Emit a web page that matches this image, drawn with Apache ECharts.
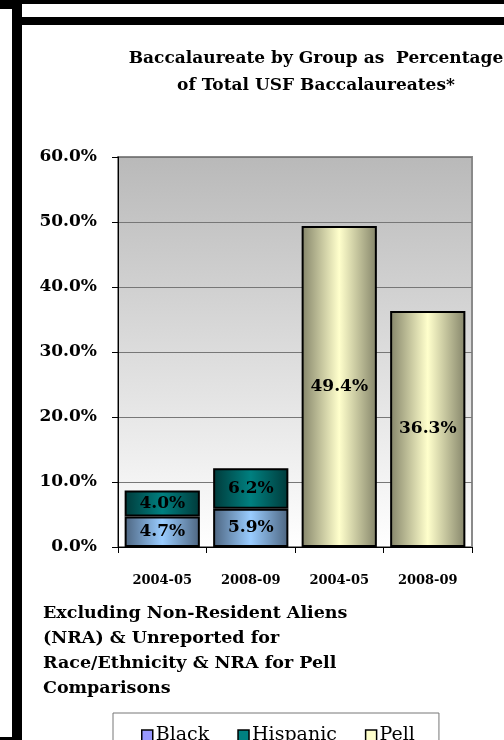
<!DOCTYPE html>
<html>
<head>
<meta charset="utf-8">
<script src="https://cdn.jsdelivr.net/npm/echarts@6/dist/echarts.min.js"></script>
<style>
  html, body { margin: 0; padding: 0; background: #fff; }
  #chart { width: 504px; height: 740px; }
</style>
</head>
<body>
<div id="chart"></div>
<script>
const categories = ['2004-05', '2008-09', '2004-05', '2008-09']
const blackValues = [4.7, 5.9, null, null]
const hispanicValues = [4.0, 6.2, null, null]
const pellValues = [null, null, 49.4, 36.3]
const yTicks = { min: 0, max: 60, interval: 10 }

const serif = 'DejaVu Serif'

function hGrad(edge, mid) {
  return {
    type: 'linear', x: 0, y: 0, x2: 1, y2: 0,
    colorStops: [
      { offset: 0, color: edge },
      { offset: 0.5, color: mid },
      { offset: 1, color: edge }
    ]
  }
}

const barLabel = {
  show: true,
  position: 'inside',
  fontFamily: serif,
  fontWeight: 'bold',
  fontSize: 17,
  color: '#000',
  formatter: function(p) {
    return p.value == null ? '' : p.value.toFixed(1) + '%'
  }
}

const chart = echarts.init(document.getElementById('chart'))
chart.setOption({
  animation: false,
  title: {
    text: 'Baccalaureate by Group as  Percentage\nof Total USF Baccalaureates*',
    left: 311,
    textAlign: 'center',
    top: 40,
    textStyle: {
      fontFamily: serif,
      fontWeight: 'bold',
      fontSize: 17,
      lineHeight: 27,
      color: '#000'
    }
  },
  grid: {
    left: 118,
    right: 32,
    top: 157,
    bottom: 193,
    show: true,
    borderColor: '#8a8a8a',
    borderWidth: 2,
    backgroundColor: {
      type: 'linear', x: 0, y: 0, x2: 0, y2: 1,
      colorStops: [
        { offset: 0, color: '#b9b9b9' },
        { offset: 1, color: '#ffffff' }
      ]
    }
  },
  legend: {
    left: 113,
    top: 713,
    padding: [13, 24, 10, 28],
    borderColor: '#777',
    borderWidth: 1,
    icon: 'rect',
    itemWidth: 11,
    itemHeight: 11,
    itemGap: 28,
    textStyle: { fontFamily: serif, fontSize: 19, color: '#000', padding: [0, 0, 0, -2] },
    itemStyle: { borderColor: '#000', borderWidth: 1.5 },
    data: [
      { name: 'Black', itemStyle: { color: '#9999ff' } },
      { name: 'Hispanic', itemStyle: { color: '#008080' } },
      { name: 'Pell', itemStyle: { color: '#ffffcc' } }
    ]
  },
  xAxis: {
    type: 'category',
    data: categories,
    axisLine: { lineStyle: { color: '#000', width: 1 } },
    axisTick: { show: true, length: 6, lineStyle: { color: '#000' } },
    axisLabel: {
      margin: 27,
      fontFamily: serif,
      fontWeight: 'bold',
      fontSize: 13,
      color: '#000'
    }
  },
  yAxis: {
    type: 'value',
    min: yTicks.min,
    max: yTicks.max,
    interval: yTicks.interval,
    axisLine: { show: true, lineStyle: { color: '#000', width: 1 } },
    axisTick: { show: true, length: 6, lineStyle: { color: '#000' } },
    splitLine: { lineStyle: { color: '#777', width: 1 } },
    axisLabel: {
      margin: 21,
      fontFamily: serif,
      fontWeight: 'bold',
      fontSize: 17,
      color: '#000',
      formatter: function(v) { return v.toFixed(1) + '%' }
    }
  },
  series: [
    {
      name: 'Black',
      type: 'bar',
      stack: 'all',
      barWidth: '85%',
      data: blackValues,
      itemStyle: { color: hGrad('#4d6580', '#99ccff'), borderColor: '#000', borderWidth: 2 },
      label: barLabel
    },
    {
      name: 'Hispanic',
      type: 'bar',
      stack: 'all',
      data: hispanicValues,
      itemStyle: { color: hGrad('#003a3a', '#008080'), borderColor: '#000', borderWidth: 2 },
      label: barLabel
    },
    {
      name: 'Pell',
      type: 'bar',
      stack: 'all',
      data: pellValues,
      itemStyle: { color: hGrad('#85856a', '#ffffcc'), borderColor: '#000', borderWidth: 2 },
      label: barLabel
    }
  ],
  graphic: [
    { type: 'rect', shape: { x: 0, y: 0, width: 504, height: 4 }, style: { fill: '#000' } },
    { type: 'rect', shape: { x: 0, y: 0, width: 12, height: 9 }, style: { fill: '#000' } },
    { type: 'rect', shape: { x: 12, y: 0, width: 10, height: 740 }, style: { fill: '#000' } },
    { type: 'rect', shape: { x: 22, y: 17, width: 482, height: 8 }, style: { fill: '#000' } },
    { type: 'rect', shape: { x: 0, y: 737, width: 12, height: 3 }, style: { fill: '#000' } },
    {
      type: 'text',
      left: 43,
      top: 601,
      style: {
        text: 'Excluding Non-Resident Aliens\n(NRA) & Unreported for\nRace/Ethnicity & NRA for Pell\nComparisons',
        font: 'bold 17.5px "DejaVu Serif"',
        lineHeight: 25,
        fill: '#000'
      }
    }
  ]
})
</script>
</body>
</html>
